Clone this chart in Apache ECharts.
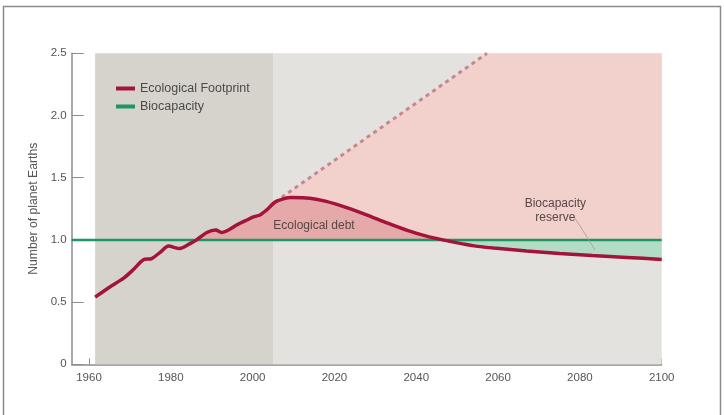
<!DOCTYPE html>
<html>
<head>
<meta charset="utf-8">
<script src="https://cdn.jsdelivr.net/npm/echarts@6/dist/echarts.min.js"></script>
<style>
html,body{margin:0;padding:0;background:#fff;}
#c{width:724px;height:415px;}
</style>
</head>
<body>
<div id="c"></div>
<script>
// ---- data ----
const years = [1961.5,1965,1968.4,1970.8,1973.3,1975.3,1977.4,1979.4,1982.2,1984.7,1986.3,1988.8,1991,1992.4,1994.1,1996.1,1998.6,2000.2,2001.8,2003.4,2005.5,2007.5,2009.5,2014,2018,2023,2028,2033,2038,2042.5,2046.5,2051,2055,2059,2067,2075,2083,2091.5,2100];
const footprint = [0.54,0.62,0.69,0.76,0.84,0.85,0.90,0.95,0.93,0.97,1.00,1.06,1.08,1.06,1.08,1.12,1.16,1.185,1.20,1.24,1.305,1.33,1.34,1.335,1.31,1.26,1.20,1.135,1.075,1.03,1.0,0.97,0.948,0.934,0.911,0.89,0.874,0.859,0.843];
const bauYears = [2005.5, 2057.3];
const bau = [1.305, 2.5];
const capYears = [2057.3, 2100];
const cap = [2.5, 2.5];
const bioYears = [1955.77, 2100];
const biocapacity = [1.0, 1.0];
const xTicks = [1960,1980,2000,2020,2040,2060,2080,2100];
const yTicks = [0,0.5,1.0,1.5,2.0,2.5];
const historyBand = [1961.5, 2005];
const futureBand = [2005, 2100];
const notes = [
  {text:'Ecological debt', at:[2015,1.118]},
  {text:'Biocapacity\nreserve', at:[2074,1.235]}
];
const leader = [[2078.8,1.175],[2083.7,0.92]];

// ---- derived ----
const fpData = years.map((y,i)=>[y, footprint[i]]);
const debtData = years.map((y,i)=>[y, Math.max(footprint[i],1)]);
const reserveFill = fpData.filter(d=>d[0]>=2046.5).map(d=>[d[0], Math.min(d[1],1)]);
const bauData = bauYears.map((y,i)=>[y,bau[i]]);
const pinkData = bauData.concat(capYears.slice(1).map((y,i)=>[y,cap[i+1]]));
const bioData = bioYears.map((y,i)=>[y,biocapacity[i]]);

const chart = echarts.init(document.getElementById('c'));
const font = '"Liberation Sans", Arial, sans-serif';
chart.setOption({
  animation:false,
  backgroundColor:'#fff',
  textStyle:{fontFamily:font},
  grid:{left:71.7,right:62.3,top:53.3,bottom:50.7},
  legend:{
    data:['Ecological Footprint','Biocapacity'],
    orient:'vertical',left:111,top:77,itemWidth:19,itemHeight:4,itemGap:5,icon:'rect',
    textStyle:{fontSize:12.5,color:'#4a4a4a',fontFamily:font}
  },
  xAxis:{
    type:'value',min:1955.77,max:2100,
    axisLine:{lineStyle:{color:'#8c8c8c',width:1.5}},
    axisTick:{inside:true,length:6,lineStyle:{color:'#8c8c8c'},customValues:xTicks},
    axisLabel:{customValues:xTicks,color:'#555',fontSize:11.5,margin:8,fontFamily:font,formatter:v=>String(v)},
    splitLine:{show:false}
  },
  yAxis:{
    type:'value',min:0,max:2.5,interval:0.5,
    name:'Number of planet Earths',nameLocation:'middle',nameGap:32,
    nameTextStyle:{fontSize:12.2,color:'#555',fontFamily:font},
    axisLine:{show:true,lineStyle:{color:'#8c8c8c',width:1.5}},
    axisTick:{show:true,inside:true,length:12,lineStyle:{color:'#8c8c8c'}},
    axisLabel:{color:'#555',fontSize:11.5,margin:5,fontFamily:font,formatter:v=>v===0?'0':v.toFixed(1)},
    splitLine:{show:false}
  },
  series:[
    {name:'bg',type:'line',data:[[2100,0]],symbol:'none',lineStyle:{width:0},z:1,silent:true,
     markArea:{silent:true,itemStyle:{opacity:1,borderWidth:0},data:[
       [{xAxis:historyBand[0],yAxis:0,itemStyle:{color:'#d6d3cc'}},{xAxis:historyBand[1],yAxis:2.5}],
       [{xAxis:futureBand[0],yAxis:0,itemStyle:{color:'#e3e2de'}},{xAxis:futureBand[1],yAxis:2.5}]
     ]}},
    {name:'pink',type:'line',data:pinkData,symbol:'none',lineStyle:{width:0},z:2,silent:true,
     areaStyle:{color:'#f2d0cb',opacity:1,origin:1}},
    {name:'debt',type:'line',data:debtData,symbol:'none',smooth:0.25,lineStyle:{width:0},z:3,silent:true,
     areaStyle:{color:'#e4a9a8',opacity:1,origin:1}},
    {name:'reserve',type:'line',data:reserveFill,symbol:'none',smooth:0.25,lineStyle:{width:0},z:3,silent:true,
     areaStyle:{color:'#b3dcc4',opacity:1,origin:1}},
    {name:'BAU',type:'line',data:bauData,symbol:'none',z:4,silent:true,
     lineStyle:{color:'#c98690',width:3,type:[4,4]}},
    {name:'Biocapacity',type:'line',data:bioData,symbol:'none',z:5,color:'#1f9465',silent:true,
     lineStyle:{color:'#1f9465',width:2.5}},
    {name:'Ecological Footprint',type:'line',data:fpData,symbol:'none',smooth:0.25,z:6,color:'#a3133b',silent:true,
     lineStyle:{color:'#a3133b',width:3.5}}
  ]
});

// annotations positioned through the chart's own scales
const g = [{type:'rect',shape:{x:3.5,y:6.5,width:717,height:420},style:{fill:'none',stroke:'#8a8a8a',lineWidth:1.5},z:100,silent:true}];
notes.forEach(n=>{
  const p = chart.convertToPixel({gridIndex:0}, n.at);
  g.push({type:'text',x:p[0],y:p[1],z:50,silent:true,
    style:{text:n.text,fill:'#5a4848',font:'12px '+font,align:'center',verticalAlign:'middle',lineHeight:14}});
});
const a = chart.convertToPixel({gridIndex:0}, leader[0]);
const b = chart.convertToPixel({gridIndex:0}, leader[1]);
g.push({type:'line',z:50,silent:true,shape:{x1:a[0],y1:a[1],x2:b[0],y2:b[1]},style:{stroke:'#9a9a9a',lineWidth:0.8}});
chart.setOption({graphic:g});
</script>
</body>
</html>
